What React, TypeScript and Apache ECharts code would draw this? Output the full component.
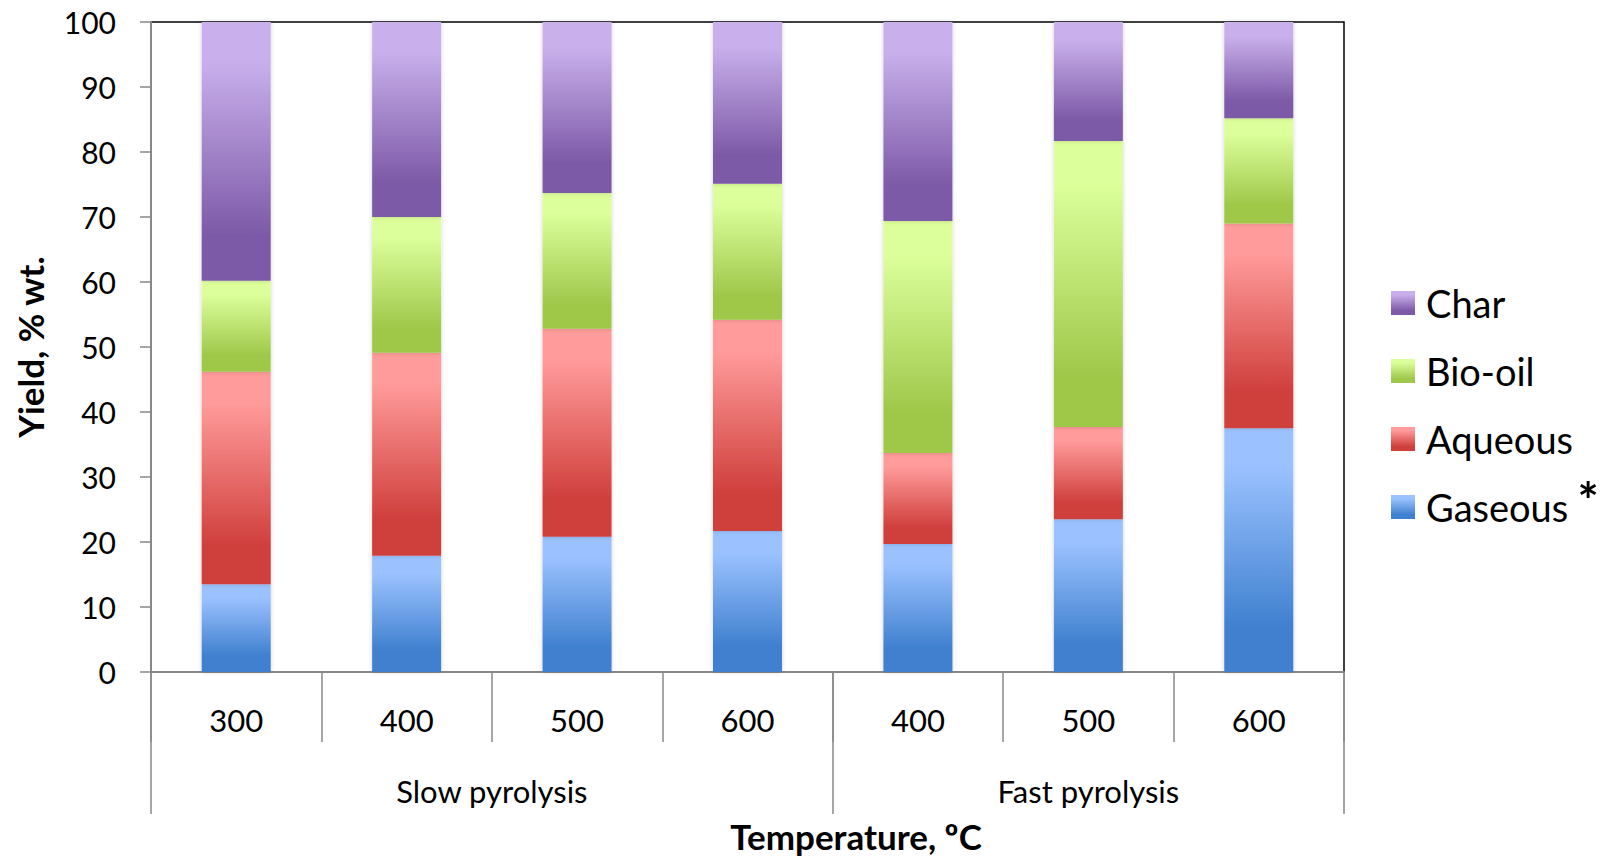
import React, { useEffect, useRef } from "react";
import * as echarts from "echarts";

const temperatures = ["300", "400", "500", "600", "400", "500", "600"];
const groupNames = ["Slow pyrolysis", "Fast pyrolysis"];
const groupSizes = [4, 3];
const gaseous = [13.5, 17.9, 20.8, 21.7, 19.7, 23.5, 37.5];
const aqueous = [32.7, 31.2, 32.0, 32.5, 14.0, 14.2, 31.5];
const bioOil = [14.0, 20.9, 20.9, 20.9, 35.7, 44.0, 16.2];
const charY = [39.8, 30.0, 26.3, 24.9, 30.6, 18.3, 14.8];
const seriesNames = ["Gaseous", "Aqueous", "Bio-oil", "Char"];
const legendOrder = ["Char", "Bio-oil", "Aqueous", "Gaseous"];

const palette: Record<string, [string, string]> = {
  Gaseous: ["#9BC2FF", "#3F80CF"],
  Aqueous: ["#FF9B9A", "#CF3F3C"],
  "Bio-oil": ["#DCFF9B", "#9FC84A"],
  Char: ["#C9B0EC", "#7D5AA7"],
};

const FONT = "Lato, 'Noto Sans', sans-serif";

function grad(name: string) {
  const [light, dark] = palette[name];
  return new echarts.graphic.LinearGradient(0, 0, 0, 1, [
    { offset: 0, color: light },
    { offset: 0.15, color: light },
    { offset: 0.82, color: dark },
    { offset: 1, color: dark },
  ]);
}

export default function App() {
  const ref = useRef<HTMLDivElement>(null);
  useEffect(() => {
    if (!ref.current) return;
    const chart = echarts.init(ref.current, null, { renderer: "svg" });
    const values = [gaseous, aqueous, bioOil, charY];
    const total = groupSizes.reduce((a, b) => a + b, 0);
    const bounds: number[] = [0];
    const centers: number[] = [];
    groupSizes.forEach((s) => {
      const start = bounds[bounds.length - 1];
      centers.push(start + s / 2);
      bounds.push(start + s);
    });
    const gray = "#888888";
    chart.setOption({
      animation: false,
      backgroundColor: "#fff",
      grid: [
        { left: 151, right: 264, top: 22, bottom: 185, show: true, borderColor: "#000", borderWidth: 1.5, backgroundColor: "transparent" },
        { left: 151, right: 264, top: 22, bottom: 185, show: false },
      ],
      xAxis: [
        {
          type: "category",
          gridIndex: 0,
          data: temperatures,
          boundaryGap: true,
          axisLine: { show: true, lineStyle: { color: gray, width: 2 } },
          axisTick: { show: true, length: 70, lineStyle: { color: gray, width: 1.5 } },
          axisLabel: { color: "#000", fontSize: 31, fontFamily: FONT, margin: 32 },
          splitLine: { show: false },
        },
        {
          type: "value",
          gridIndex: 1,
          min: 0,
          max: total,
          position: "bottom",
          axisLine: { show: false },
          axisTick: { show: true, customValues: bounds, length: 142, lineStyle: { color: gray, width: 1.5 } },
          axisLabel: {
            show: true,
            customValues: centers,
            color: "#000",
            fontSize: 31,
            fontFamily: FONT,
            margin: 103,
            formatter: (v: number) => {
              const i = centers.findIndex((c) => Math.abs(c - v) < 1e-6);
              return i >= 0 ? groupNames[i] : "";
            },
          },
          splitLine: { show: false },
        },
      ],
      yAxis: [
        {
          type: "value",
          gridIndex: 0,
          min: 0,
          max: 100,
          interval: 10,
          axisLine: { show: true, lineStyle: { color: gray, width: 2 } },
          axisTick: { show: true, length: 11, lineStyle: { color: gray, width: 1.5 } },
          axisLabel: { color: "#000", fontSize: 30, fontFamily: FONT, margin: 35 },
          splitLine: { show: false },
        },
        { type: "value", gridIndex: 1, min: 0, max: 100, show: false },
      ],
      legend: {
        orient: "vertical",
        left: 1391,
        top: 284,
        padding: 0,
        itemWidth: 24,
        itemHeight: 24,
        itemGap: 30,
        icon: "rect",
        data: legendOrder,
        textStyle: { color: "#000", fontSize: 38, fontFamily: FONT, lineHeight: 38, padding: [0, 0, 0, 6] },
      },
      series: seriesNames.map((name, i) => ({
        name,
        type: "bar",
        stack: "total",
        xAxisIndex: 0,
        yAxisIndex: 0,
        barWidth: 69,
        data: values[i],
        itemStyle: {
          color: grad(name),
          shadowBlur: 4,
          shadowColor: "rgba(0,0,0,0.18)",
        },
      })),
      graphic: [
        {
          type: "text",
          x: 30,
          y: 347,
          rotation: Math.PI / 2,
          style: { text: "Yield, % wt.", fill: "#000", font: `bold 35px ${FONT}`, align: "center", verticalAlign: "middle" },
        },
        {
          type: "text",
          x: 856,
          y: 836,
          style: { text: "Temperature, ºC", fill: "#000", font: `bold 35px ${FONT}`, align: "center", verticalAlign: "middle" },
        },
        {
          type: "text",
          x: 1588,
          y: 500,
          style: { text: "*", fill: "#000", font: `bold 50px ${FONT}`, align: "center", verticalAlign: "middle" },
        },
      ],
    });
    return () => chart.dispose();
  }, []);
  return <div ref={ref} style={{ position: "absolute", left: 0, top: 0, width: 1608, height: 857 }} />;
}
